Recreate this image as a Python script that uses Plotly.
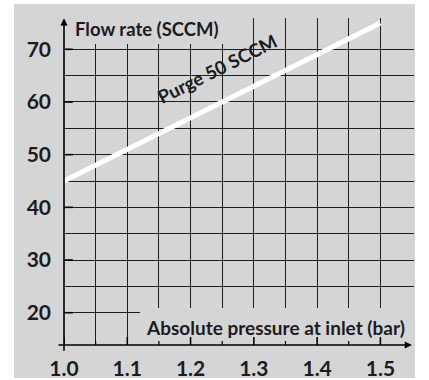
import plotly.graph_objects as go

# ---- data ----
pressure = [1.0, 1.5]            # bar (absolute, at inlet)
flow_purge = [45, 75]            # SCCM
series_label = "Purge 50 SCCM"

x_major = [1.0, 1.1, 1.2, 1.3, 1.4, 1.5]
x_minor = [1.05, 1.15, 1.25, 1.35, 1.45]
x_ticktext = ["1.0", "1.1", "1.2", "1.3", "1.4", "1.5"]
y_major = [20, 30, 40, 50, 60, 70]
y_minor = [25, 35, 45, 55, 65]
y_ticktext = ["20", "30", "40", "50", "60", "70"]

x_title = "Absolute pressure at inlet (bar)"
y_title = "Flow rate (SCCM)"

# ---- style ----
BG = "#d4d5d7"
GRID = "#1e1e1e"
TXT = "#1d1b1c"
FONT = "Lato"
XR = [1.0, 1.5531]
YR = [13.87, 75.94]

fig = go.Figure()
fig.add_trace(go.Scatter(
    x=pressure, y=flow_purge, mode="lines",
    line=dict(color="white", width=5), hoverinfo="skip", showlegend=False,
))

shapes = []
# outer gray panel
shapes.append(dict(type="rect", xref="paper", yref="paper",
                   x0=-0.1429, x1=1.0029, y0=-0.1009, y1=1.0428,
                   fillcolor=BG, line=dict(width=0), layer="below"))
# cover grid behind y title
shapes.append(dict(type="rect", xref="x", yref="y",
                   x0=1.0, x1=1.275, y0=71.0, y1=YR[1] + 1,
                   fillcolor=BG, line=dict(width=0), layer="above"))
# cover grid behind x title
shapes.append(dict(type="rect", xref="x", yref="y",
                   x0=1.12, x1=XR[1] + 0.01, y0=YR[0], y1=20.9,
                   fillcolor=BG, line=dict(width=0), layer="above"))
# crossing ticks on x axis
for v in x_major:
    shapes.append(dict(type="line", xref="x", yref="y", ysizemode="pixel",
                       yanchor=YR[0], x0=v, x1=v, y0=-8, y1=8,
                       line=dict(color="black", width=1.6), layer="above"))
for v in x_minor:
    shapes.append(dict(type="line", xref="x", yref="y", ysizemode="pixel",
                       yanchor=YR[0], x0=v, x1=v, y0=0, y1=4,
                       line=dict(color="black", width=1.2), layer="above"))
# crossing ticks on y axis
for v in y_major:
    shapes.append(dict(type="line", xref="x", yref="y", xsizemode="pixel",
                       xanchor=XR[0], x0=-7, x1=9, y0=v, y1=v,
                       line=dict(color="black", width=1.6), layer="above"))

annotations = [
    # y axis with arrow
    dict(x=XR[0], y=YR[1] - 0.05, xref="x", yref="y", text="", showarrow=True,
         ax=0, ay=334, axref="pixel", ayref="pixel", arrowhead=2, arrowsize=0.9,
         arrowwidth=1.6, arrowcolor="black", standoff=0, startstandoff=0),
    # x axis with arrow
    dict(x=1.5499, y=YR[0], xref="x", yref="y", text="", showarrow=True,
         ax=-355, ay=0, axref="pixel", ayref="pixel", arrowhead=2, arrowsize=0.9,
         arrowwidth=1.6, arrowcolor="black", standoff=0, startstandoff=0),
    dict(x=1.0142, y=73.85, xref="x", yref="y", text=y_title, showarrow=False,
         xanchor="left", yanchor="middle",
         font=dict(family=FONT, size=18.5, color=TXT, weight="bold")),
    dict(x=1.542, y=17.1, xref="x", yref="y", text=x_title, showarrow=False,
         xanchor="right", yanchor="middle",
         font=dict(family=FONT, size=19, color=TXT, weight="bold")),
    dict(x=1.2418, y=66.3, xref="x", yref="y", text=series_label, showarrow=False,
         textangle=-26.6, xanchor="center", yanchor="middle",
         font=dict(family=FONT, size=18.5, color=TXT, weight="bold")),
]

fig.update_layout(
    width=429, height=380,
    margin=dict(l=64, r=15, t=18, b=35, pad=0, autoexpand=False),
    paper_bgcolor="white", plot_bgcolor=BG,
    showlegend=False,
    shapes=shapes, annotations=annotations,
    xaxis=dict(range=XR, tickvals=x_major, ticktext=x_ticktext, automargin=False,
               showgrid=True, gridcolor=GRID, gridwidth=1.2,
               zeroline=False, showline=False, ticks="", ticklabelstandoff=9,
               tickfont=dict(family=FONT, size=21, color=TXT, weight="bold"),
               minor=dict(tickvals=x_minor, showgrid=True, gridcolor=GRID,
                          gridwidth=1.2, ticks=""),
               fixedrange=True),
    yaxis=dict(range=YR, tickvals=y_major, ticktext=y_ticktext, automargin=False,
               showgrid=True, gridcolor=GRID, gridwidth=1.2,
               zeroline=False, showline=False, ticks="", ticklabelstandoff=12,
               tickfont=dict(family=FONT, size=21, color=TXT, weight="bold"),
               minor=dict(tickvals=y_minor, showgrid=True, gridcolor=GRID,
                          gridwidth=1.2, ticks=""),
               fixedrange=True),
)

fig.write_html("out.html", config={"displayModeBar": False},
               post_script="document.body.style.margin='0';document.body.style.overflow='hidden';")
